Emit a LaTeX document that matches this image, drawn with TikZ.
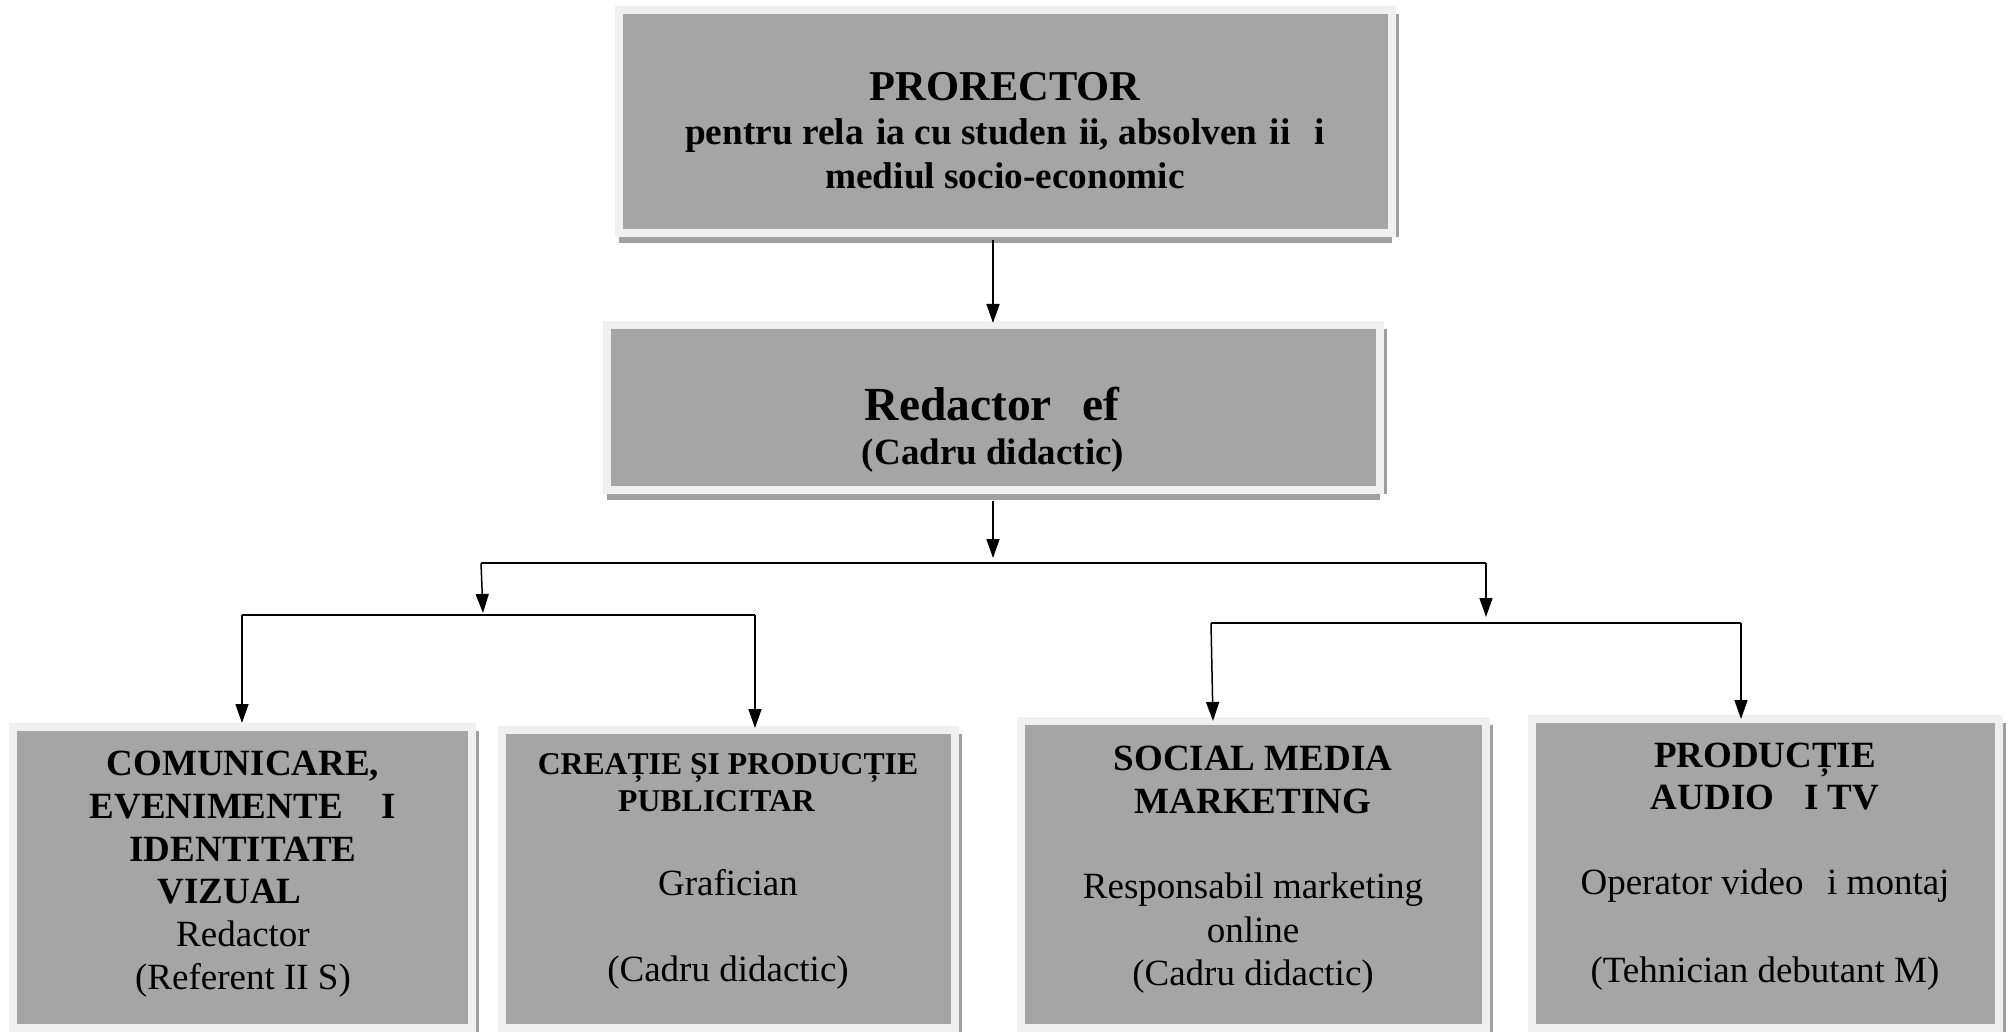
\documentclass[tikz,border=0pt]{standalone}
\usepackage{fontspec}
\setmainfont{Liberation Serif}
\usetikzlibrary{arrows.meta,shadows}
\definecolor{boxfill}{HTML}{A5A5A5}
\definecolor{boxframe}{HTML}{F0F0F0}
\definecolor{boxshadow}{HTML}{A0A0A0}
\begin{document}
\begin{tikzpicture}[x=1pt,y=-1pt,
  orgbox/.style={rectangle, fill=boxfill, draw=boxframe, line width=8pt,
    inner sep=0pt, outer sep=0pt,
    drop shadow={shadow xshift=0pt, shadow yshift=-10pt, fill=boxshadow, opacity=1},
    drop shadow={shadow xshift=6.5pt, shadow yshift=-4pt, fill=boxshadow, opacity=1}},
  txt/.style={inner sep=0pt, outer sep=0pt, anchor=base, text=black},
  hdbig/.style={txt, font=\bfseries\fontsize{42.5}{48}\selectfont},
  hdmid/.style={txt, font=\bfseries\fontsize{37.3}{42}\selectfont},
  hdred/.style={txt, font=\bfseries\fontsize{47.5}{54}\selectfont},
  hdbox/.style={txt, font=\bfseries\fontsize{37}{42}\selectfont},
  hdsmall/.style={txt, font=\bfseries\fontsize{31.7}{36}\selectfont},
  rg/.style={txt, font=\fontsize{37}{42}\selectfont},
  conn/.style={draw=black, line width=1.5pt},
  bar/.style={draw=black, line width=2.5pt},
  arr/.style={conn, -{Triangle[length=19pt,width=13pt]}},
]
\useasboundingbox[fill=white] (0,0) rectangle (2006,1032);

% boxes
\node[orgbox, minimum width=773pt, minimum height=223pt] (top) at (1005.5,121.5) {};
\node[orgbox, minimum width=773pt, minimum height=165pt] (red) at (993.5,407.5) {};
\node[orgbox, minimum width=459pt, minimum height=301pt] (b1) at (242.5,877.5) {};
\node[orgbox, minimum width=453pt, minimum height=298pt] (b2) at (728.5,879) {};
\node[orgbox, minimum width=465pt, minimum height=307pt] (b3) at (1253.5,874.5) {};
\node[orgbox, minimum width=467pt, minimum height=309pt] (b4) at (1765.5,873.5) {};

% top box text
\node[hdbig] (ta) at (1005,101) {PRORECTOR};
\node[hdmid] (tb) at (1005,145) {pentru rela\phantom{ț}ia cu studen\phantom{ț}ii, absolven\phantom{ț}ii \phantom{ș}i};
\node[hdmid] (tc) at (1005,189) {mediul socio-economic};

% second box text
\node[hdred] (ra) at (992,420) {Redactor \phantom{ș}ef};
\node[hdbox] (rb) at (993,464) {(Cadru didactic)};

% box 1
\node[hdbox] (b1a) at (243,775) {COMUNICARE,};
\node[hdbox] (b1b) at (243,818) {EVENIMENTE\ \ \phantom{Ș}I};
\node[hdbox] (b1c) at (243,861) {IDENTITATE};
\node[hdbox] (b1d) at (243,903) {VIZUAL\phantom{Ă}};
\node[rg] (b1e) at (243,946) {Redactor};
\node[rg] (b1f) at (243,989) {(Referent II S)};

% box 2
\node[hdsmall] (b2a) at (728,774) {CREAȚIE ȘI PRODUCȚIE};
\node[hdsmall] (b2b) at (728,811) {PUBLICITAR\phantom{Ă}};
\node[rg] (b2c) at (728,895) {Grafician};
\node[rg] (b2d) at (728,981) {(Cadru didactic)};

% box 3
\node[hdbox] (b3a) at (1253,770) {SOCIAL MEDIA};
\node[hdbox] (b3b) at (1253,813) {MARKETING};
\node[rg] (b3c) at (1253,898) {Responsabil marketing};
\node[rg] (b3d) at (1253,942) {online};
\node[rg] (b3e) at (1253,985) {(Cadru didactic)};

% box 4
\node[hdbox] (b4a) at (1765,767) {PRODUCȚIE};
\node[hdbox] (b4b) at (1765,809) {AUDIO \phantom{Ș}I TV};
\node[rg] (b4c) at (1765,894) {Operator video \phantom{ș}i montaj};
\node[rg] (b4d) at (1765,982) {(Tehnician debutant M)};

% connector coordinates
\coordinate (tipA) at (993,558);
\coordinate (jL) at (481,563);
\coordinate (jR) at (1486,563);
\coordinate (tipL) at (483,613);
\coordinate (tipR) at (1486,617);
\coordinate (kL1) at (242,615);
\coordinate (kL2) at (755,615);
\coordinate (kR1) at (1211,623);
\coordinate (kR2) at (1741,623);
\coordinate (tipS) at (1213,723);

% connectors
\draw[arr, shorten <=7pt, shorten >=2pt] (top.south -| tipA) -- (red.north -| tipA);
\draw[arr, shorten <=11pt] (red.south -| tipA) -- (tipA);
\draw[bar] (jL) -- (jR);
\draw[arr] (jL) -- (tipL);
\draw[arr] (jR) -- (tipR);
\draw[bar] (kL1) -- (kL2);
\draw[bar] (kR1) -- (kR2);
\draw[arr, shorten >=4pt] (kL1) -- (b1.north -| kL1);
\draw[arr, shorten >=2pt] (kL2) -- (b2.north -| kL2);
\draw[arr] (kR1) -- (b3.north -| tipS);
\draw[arr] (kR2) -- (b4.north -| kR2);
\end{tikzpicture}
\end{document}
